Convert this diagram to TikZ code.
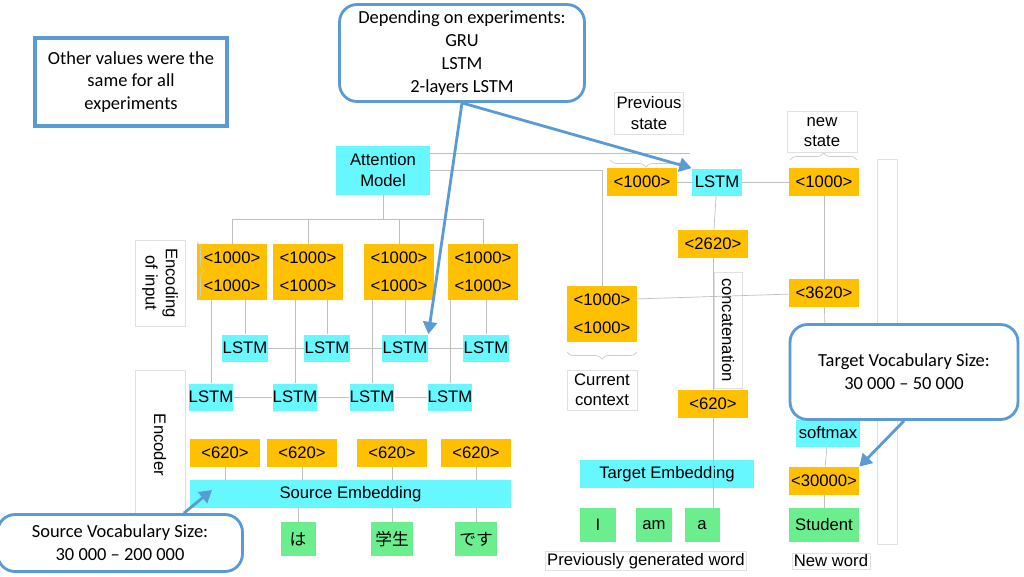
\documentclass[tikz,border=0pt]{standalone}
\usepackage{fontspec}
\setmainfont{Liberation Sans}
\newfontfamily\calloutfont{Carlito}[Ligatures=TeX]
\newfontfamily\cjk{Noto Sans CJK JP}
\usetikzlibrary{positioning, arrows.meta, decorations.pathreplacing}

\definecolor{dimyellow}{HTML}{FFC000}
\definecolor{cellcyan}{HTML}{66F7FF}
\definecolor{wordgreen}{HTML}{6BEE8E}
\definecolor{calloutblue}{HTML}{5B9BD5}

\begin{document}
\begin{tikzpicture}[
    x=0.02cm, y=-0.02cm,
    every node/.style={font=\fontsize{9.5}{11.5}\selectfont, inner sep=0pt},
    % Styles
    dim/.style={fill=dimyellow, minimum width=1.4cm, minimum height=0.56cm},
    cell/.style={fill=cellcyan, minimum height=0.54cm},
    word/.style={fill=wordgreen, minimum height=0.68cm},
    tag/.style={draw=black!12, fill=white, align=center},
    callout/.style={draw=calloutblue, line width=1.6pt, fill=white, rounded corners=10pt, align=center, font=\calloutfont\fontsize{10.5}{13}\selectfont},
    link/.style={draw=black!25, line width=0.4pt},
    pointer/.style={-{Triangle[length=7pt,width=8pt]}, draw=calloutblue, line width=1.6pt},
    brace/.style={decorate, decoration={brace, amplitude=4pt}, draw=black!20},
]
\useasboundingbox (0,0) rectangle (1024,576);

% Encoder side
\node[cell, minimum width=1.88cm, minimum height=0.98cm, align=center] (attn) at (383,170) {Attention\\Model};

\foreach \i/\x in {1/232, 2/308, 3/399, 4/483} {
    \node[dim] (ctxA\i) at (\x,258) {<1000>};
    \node[dim] (ctxB\i) at (\x,286) {<1000>};
}
\foreach \i/\x in {1/245, 2/327, 3/405, 4/486}
    \node[cell, minimum width=0.92cm] (fwd\i) at (\x,348) {LSTM};
\foreach \i/\x in {1/211, 2/295, 3/372, 4/450}
    \node[cell, minimum width=0.88cm] (bwd\i) at (\x,397) {LSTM};
\foreach \i/\x in {1/225, 2/302, 3/392, 4/476}
    \node[dim] (emb\i) at (\x,453) {<620>};

\node[cell, minimum width=6.42cm, minimum height=0.56cm] (srcemb) at (350.5,494) {Source Embedding};
\node[word, minimum width=0.7cm] (w2) at (298,539) {\cjk は};
\node[word, minimum width=0.84cm] (w3) at (392,539) {\cjk 学生};
\node[word, minimum width=0.84cm] (w4) at (476,539) {\cjk です};

\node[tag, minimum width=1cm, minimum height=1.72cm] (enclabel) at (160,283) {};
\node[rotate=-90, align=center] at (enclabel) {Encoding\\of input};
\node[tag, minimum width=1cm, minimum height=3cm] (encoder) at (160,445) {};
\node[rotate=-90] at (encoder) {Encoder};

% Encoder connectors
\coordinate (split) at (383,219);
\draw[link] (attn) -- (split);
\draw[link] (232,219) -- (483,219);
\foreach \i in {1,...,4} \draw[link] (ctxA\i.north |- split) -- (ctxA\i);
\foreach \i in {1,...,3} {
    \pgfmathtruncatemacro{\j}{\i+1}
    \draw[link] (fwd\i) -- (fwd\j);
    \draw[link] (bwd\i) -- (bwd\j);
}
\foreach \i in {1,...,4} \draw[link] (ctxB\i.south -| bwd\i) -- (bwd\i);
\foreach \i in {1,...,4} \draw[link] (ctxB\i.south -| fwd\i) -- (fwd\i);
\foreach \i in {1,...,4} \draw[link] (emb\i) -- (emb\i |- srcemb.north);
\draw[link] (w2) -- (w2 |- srcemb.south);
\draw[link] (w3) -- (w3 |- srcemb.south);
\draw[link] (w4) -- (w4 |- srcemb.south);

% Decoder side
\node[dim] (prev) at (642,182) {<1000>};
\node[cell, minimum width=1cm] (declstm) at (717,182) {LSTM};
\node[dim] (new) at (824,182) {<1000>};
\node[dim] (cat) at (713,244) {<2620>};
\node[dim] (curA) at (602,300) {<1000>};
\node[dim] (curB) at (602,328) {<1000>};
\node[dim] (full) at (824,293) {<3620>};
\node[dim] (tgtdim) at (713,404) {<620>};
\node[cell, minimum width=1.28cm] (soft) at (828,433) {softmax};
\node[dim] (prob) at (824,481) {<30000>};
\node[word, minimum width=1.4cm] (student) at (824,525) {Student};
\node[cell, minimum width=3.5cm, minimum height=0.56cm] (tgtemb) at (667,474) {Target Embedding};
\node[word, minimum width=0.72cm] (t1) at (598,525) {I};
\node[word, minimum width=0.72cm] (t2) at (654,525) {am};
\node[word, minimum width=0.7cm] (t3) at (702,525) {a};

\node[tag, minimum width=1.38cm, minimum height=0.84cm] (prevlabel) at (649,113) {Previous\\state};
\node[tag, minimum width=1.4cm, minimum height=0.82cm] (newlabel) at (822,132) {new\\state};
\node[tag, minimum width=1.4cm, minimum height=0.8cm] (curlabel) at (602,390) {Current\\context};
\node[tag, minimum width=0.56cm, minimum height=2.32cm] (catlabel) at (728,330) {};
\node[rotate=-90] at (catlabel) {concatenation};
\node[tag, inner sep=1pt] (prevword) at (646,561) {Previously generated word};
\node[tag, inner sep=1pt] (newword) at (831,561) {New word};
\node[tag, minimum width=0.4cm, minimum height=7.7cm] (outbox) at (887,352) {};

% Braces
\draw[brace] (682,160) -- (610,160);
\draw[brace] (790,160) -- (857,160) ;
\draw[brace] (637,352) -- (567,352);
\draw[brace] (197,242) -- (197,300);

% Decoder connectors
\draw[link] (attn.east |- 0,153) -- (690,153);
\draw[link] (attn.east |- 0,170) -| (curA);
\draw[link] (prev) -- (declstm);
\draw[link] (declstm) -- (new);
\draw[link] (declstm) -- (cat);
\draw[link] (cat) -- (tgtdim);
\draw[link] (curA) -- (full);
\draw[link] (new) -- (full);
\draw[link] (full) -- (soft);
\draw[link] (soft) -- (prob);
\draw[link] (prob) -- (student);
\draw[link] (tgtdim) -- (tgtdim |- t3.north);

% Callouts
\node[callout, minimum width=4.9cm, minimum height=1.94cm] (rnntype) at (462,53) {Depending on experiments:\\GRU\\LSTM\\2-layers LSTM};
\node[draw=calloutblue, line width=2.2pt, minimum width=3.84cm, minimum height=1.76cm, align=center, font=\calloutfont\fontsize{10.5}{13}\selectfont] (samenote) at (131,82) {Other values were the\\same for all\\experiments};
\node[callout, minimum width=4.9cm, minimum height=1.14cm] (srcvocab) at (120,543) {Source Vocabulary Size:\\30 000 -- 200 000};
\node[callout, minimum width=4.56cm, minimum height=1.9cm] (tgtvocab) at (904,372) {Target Vocabulary Size:\\30 000 -- 50 000};

\draw[pointer] (rnntype.south) -- (fwd3.north east);
\draw[pointer] (rnntype.south) -- (declstm.north west);
\draw[pointer] (srcvocab.north east) ++(-60,0) -- (212,490);
\draw[pointer] (tgtvocab.south) -- (prob.north east);
\end{tikzpicture}
\end{document}
